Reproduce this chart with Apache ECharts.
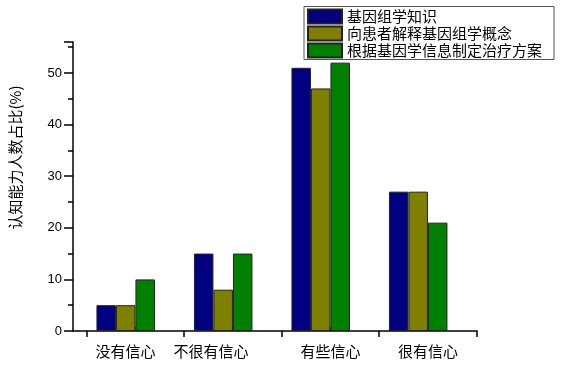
<!DOCTYPE html>
<html><head><meta charset="utf-8">
<script src="https://cdn.jsdelivr.net/npm/echarts@6/dist/echarts.min.js"></script>
<style>html,body{margin:0;padding:0;background:#fff}#c{width:571px;height:372px}</style>
</head><body><div id="c"></div>
<script>
const categories = ['没有信心', '不很有信心', '有些信心', '很有信心'];
const seriesNames = ['基因组学知识', '向患者解释基因组学概念', '根据基因学信息制定治疗方案'];
const knowledge = [5, 15, 51, 27];
const explain = [5, 8, 47, 27];
const plan = [10, 15, 52, 21];
const yTicks = [0, 10, 20, 30, 40, 50];

const colors = ['#000080', '#808000', '#008000'];
const labelShift = [20, 44, 0, 0];
const font = '"Noto Sans CJK SC", "Liberation Sans", sans-serif';
const chart = echarts.init(document.getElementById('c'));
const seriesData = [knowledge, explain, plan];
const series = seriesData.map((d, i) => ({
  name: seriesNames[i], type: 'bar', xAxisIndex: 1, yAxisIndex: 1,
  data: d, barWidth: 19.5, barGap: '0%',
  itemStyle: { color: colors[i], borderColor: '#222', borderWidth: 1 }
}));
series.push({ name: 'spacer', type: 'bar', xAxisIndex: 1, yAxisIndex: 1, data: [], barWidth: 19.5, barGap: '0%' });
chart.setOption({
  animation: false,
  grid: [
    { left: 58, width: 419, top: 42, height: 289 },
    { left: 86.7, right: 94.3, top: 42, height: 289 }
  ],
  legend: {
    data: seriesNames, orient: 'vertical', left: 304, top: 6.5,
    itemWidth: 34, itemHeight: 14, itemGap: 1,
    padding: [2, 12, 1, 3], borderColor: '#555', borderWidth: 1,
    icon: 'rect',
    textStyle: { fontFamily: font, fontSize: 15, lineHeight: 14, color: '#000' }
  },
  xAxis: [
    { type: 'value', gridIndex: 0, min: 0, max: 1,
      axisLine: { show: true, lineStyle: { color: '#000', width: 1.5 } },
      axisTick: { show: false }, axisLabel: { show: false }, splitLine: { show: false } },
    { type: 'category', gridIndex: 1, data: categories.map((c, i) => ({ value: c, textStyle: { padding: [0, labelShift[i], 0, 0] } })),
      axisLine: { show: false },
      axisTick: { show: true, length: 6, lineStyle: { color: '#000', width: 1.5 } },
      axisLabel: { fontFamily: font, fontSize: 15, color: '#000', margin: 13, interval: 0 },
      splitLine: { show: false } },
    { type: 'category', gridIndex: 1, data: categories, position: 'bottom',
      axisLine: { show: false },
      axisTick: { show: true, alignWithLabel: true, inside: true, length: 4, interval: 0, lineStyle: { color: '#000', width: 1.5 } },
      axisLabel: { show: false }, splitLine: { show: false } }
  ],
  yAxis: [
    { type: 'value', gridIndex: 0, min: 0, max: 56, interval: 10,
      name: '认知能力人数占比(%)', nameLocation: 'middle', nameGap: 44,
      nameTextStyle: { fontFamily: font, fontSize: 15, color: '#000', padding: [0, 0, 6, 58] },
      axisLine: { show: true, lineStyle: { color: '#000', width: 1.5 } },
      axisTick: { show: true, length: 9, lineStyle: { color: '#000', width: 1.5 } },
      minorTick: { show: true, splitNumber: 2, length: 5, lineStyle: { color: '#000', width: 1.5 } },
      axisLabel: { fontFamily: '"Liberation Sans", Arial, sans-serif', fontSize: 13, color: '#000', margin: 11,
        formatter: v => (yTicks.includes(v) ? String(v) : '') },
      splitLine: { show: false } },
    { type: 'value', gridIndex: 1, min: 0, max: 56, show: false, splitLine: { show: false } }
  ],
  series
});
</script></body></html>
